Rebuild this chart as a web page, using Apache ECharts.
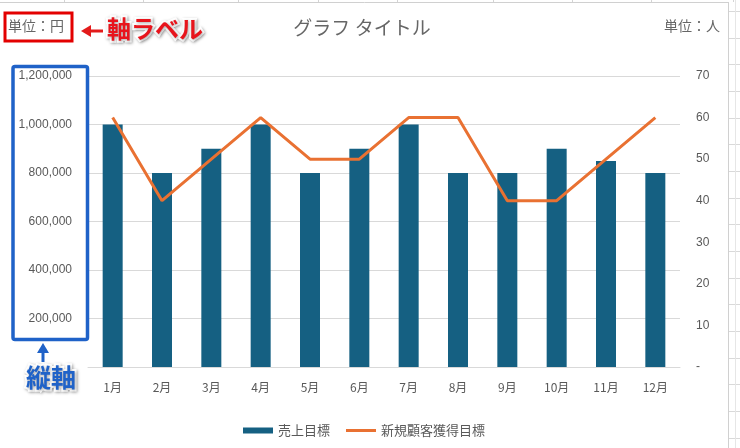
<!DOCTYPE html>
<html>
<head>
<meta charset="utf-8">
<script src="https://cdn.jsdelivr.net/npm/echarts@6/dist/echarts.min.js"></script>
<style>html,body{margin:0;padding:0;background:#fff;}#c{width:740px;height:448px;}</style>
</head>
<body>
<div id="c"></div>
<script>
const categories = ['1月','2月','3月','4月','5月','6月','7月','8月','9月','10月','11月','12月'];
const salesTarget = [1000000, 800000, 900000, 1000000, 800000, 900000, 1000000, 800000, 800000, 900000, 850000, 800000];
const newCustomerTarget = [60, 40, 50, 60, 50, 50, 60, 60, 40, 40, 50, 60];
const seriesNames = ['売上目標', '新規顧客獲得目標'];
const titleText = 'グラフ タイトル';
const leftUnit = '単位：円';
const rightUnit = '単位：人';
const noteAxisLabel = '軸ラベル';
const noteAxis = '縦軸';

const FONT = '"Noto Sans CJK JP", "Noto Sans", sans-serif';
const GRAY = '#595959';

// decorative spreadsheet cell lines
const deco = [];
[64,143,238,318,397,493,572,651,733].forEach(x => deco.push({type:'line', z:-10, shape:{x1:x+0.5,y1:0,x2:x+0.5,y2:2}, style:{stroke:'#d4d4d4', lineWidth:1}}));
for (let y = 11; y < 448; y += 26.67) deco.push({type:'line', z:-10, shape:{x1:729,y1:Math.round(y)+0.5,x2:740,y2:Math.round(y)+0.5}, style:{stroke:'#d9d9d9', lineWidth:1}});
deco.push({type:'line', z:-10, shape:{x1:735.5,y1:0,x2:735.5,y2:448}, style:{stroke:'#e6e6e6', lineWidth:1}});
deco.push({type:'line', z:-9, shape:{x1:0,y1:2.5,x2:729,y2:2.5}, style:{stroke:'#d0d0d0', lineWidth:1}});
deco.push({type:'line', z:-9, shape:{x1:728.5,y1:2,x2:728.5,y2:448}, style:{stroke:'#d0d0d0', lineWidth:1}});

const notes = [
  {type:'text', left:8, top:19, z:50, style:{text:leftUnit, fill:'#666', font:'14px ' + FONT}},
  {type:'text', right:20, top:19, z:50, style:{text:rightUnit, fill:'#666', font:'14px ' + FONT}},
  {type:'text', x:362, y:28, z:50, style:{text:titleText, fill:'#666', font:'19px ' + FONT, align:'center', verticalAlign:'middle'}},
  {type:'rect', z:60, shape:{x:5,y:13,width:67,height:28}, style:{fill:'none', stroke:'#e30000', lineWidth:3}},
  {type:'line', z:60, shape:{x1:103,y1:31,x2:88,y2:31}, style:{stroke:'#e31b1b', lineWidth:3}},
  {type:'polygon', z:60, shape:{points:[[81,31],[91,25],[91,37]]}, style:{fill:'#e31b1b'}},
  {type:'text', left:105, top:15, z:60, style:{text:noteAxisLabel, fill:'#e8141c', font:'bold 24px ' + FONT, stroke:'#fff', lineWidth:4, textShadowColor:'rgba(0,0,0,0.35)', textShadowBlur:3, textShadowOffsetX:1, textShadowOffsetY:1}},
  {type:'rect', z:60, shape:{x:13,y:66.5,width:74.5,height:273,r:2}, style:{fill:'none', stroke:'#1f62c8', lineWidth:3.5}},
  {type:'line', z:60, shape:{x1:43,y1:362,x2:43,y2:350}, style:{stroke:'#1f62c8', lineWidth:3}},
  {type:'polygon', z:60, shape:{points:[[43,343],[37,353],[49,353]]}, style:{fill:'#1f62c8'}},
  {type:'text', left:24, top:363, z:60, style:{text:noteAxis, fill:'#1f62c8', font:'bold 25px ' + FONT, stroke:'#fff', lineWidth:4, textShadowColor:'rgba(0,0,0,0.35)', textShadowBlur:3, textShadowOffsetX:1, textShadowOffsetY:1}}
];

const chart = echarts.init(document.getElementById('c'), null, {renderer:'canvas'});
chart.setOption({
  backgroundColor:'#ffffff',
  animation:false,
  textStyle:{fontFamily:FONT},
  grid:{left:88, right:60, top:76, bottom:81},
  legend:{
    bottom:6, left:238, itemGap:16, itemWidth:30, itemHeight:6,
    textStyle:{color:GRAY, fontSize:13, fontFamily:FONT},
    data:[
      {name:seriesNames[0], icon:'rect'},
      {name:seriesNames[1], icon:'path://M0,0L30,0L30,3L0,3Z', itemStyle:{color:'#E97132'}}
    ]
  },
  xAxis:{
    type:'category', data:categories,
    axisLine:{lineStyle:{color:'#d9d9d9', width:1}},
    axisTick:{show:false},
    axisLabel:{color:GRAY, fontSize:12, margin:14, fontFamily:FONT}
  },
  yAxis:[
    {type:'value', min:0, max:1200000, interval:200000,
     axisLine:{show:false}, axisTick:{show:false},
     splitLine:{lineStyle:{color:'#d9d9d9', width:1}},
     axisLabel:{color:GRAY, fontSize:12, margin:16, fontFamily:'"Liberation Sans", Arial, sans-serif',
       formatter:v => v === 0 ? '' : v.toLocaleString('en-US')}},
    {type:'value', min:0, max:70, interval:10, position:'right',
     axisLine:{show:false}, axisTick:{show:false}, splitLine:{show:false},
     axisLabel:{color:GRAY, fontSize:12, margin:16, fontFamily:'"Liberation Sans", Arial, sans-serif',
       formatter:v => v === 0 ? '-' : String(v)}}
  ],
  series:[
    {name:seriesNames[0], type:'bar', data:salesTarget, yAxisIndex:0, barWidth:20,
     itemStyle:{color:'#156082'}},
    {name:seriesNames[1], type:'line', data:newCustomerTarget, yAxisIndex:1,
     symbol:'none', lineStyle:{color:'#E97132', width:3}, itemStyle:{color:'#E97132'}}
  ],
  graphic:deco.concat(notes)
});
</script>
</body>
</html>
